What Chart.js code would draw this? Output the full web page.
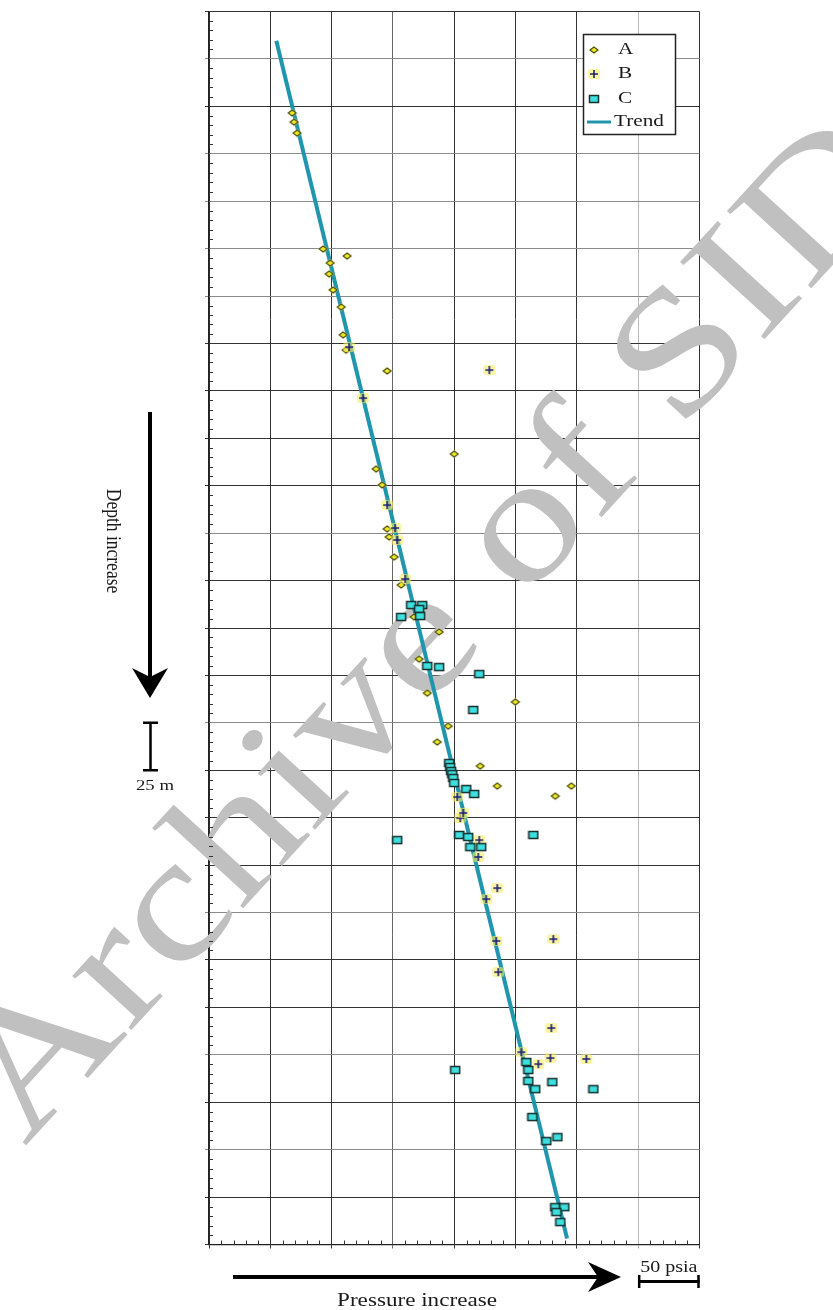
<!DOCTYPE html>
<html>
<head>
<meta charset="utf-8">
<script src="https://cdn.jsdelivr.net/npm/chart.js@4.4.0/dist/chart.umd.min.js"></script>
<style>
  html, body { margin: 0; padding: 0; background: #ffffff; }
  #wrap { width: 833px; height: 1310px; position: relative; }
  canvas { display: block; }
</style>
</head>
<body>
<div id="wrap"><canvas id="chart" width="833" height="1310"></canvas></div>
<script>
// Relative pressure (psia) and depth (m) of each measurement group
const aPressure = [67.8, 69.4, 71.8, 93.1, 112.6, 98.8, 98.0, 101.2, 107.8, 109.4, 111.8, 145.3, 200.0, 136.3, 141.2,
                   145.3, 146.9, 151.0, 156.7, 167.3, 187.7, 171.4, 178.0, 249.8, 195.1, 186.1, 221.2, 235.1, 282.4, 295.5];
const aDepth    = [53.5, 58.3, 64.1, 125.2, 128.9, 132.6, 138.4, 146.8, 155.8, 170.5, 178.5, 189.5, 233.3, 241.2, 249.6,
                   272.8, 277.0, 287.6, 302.3, 319.2, 327.1, 341.4, 359.3, 364.0, 376.7, 385.1, 397.8, 408.3, 413.6, 408.3];

const bPressure = [114.3, 228.6, 125.7, 145.3, 151.8, 153.5, 160.0, 202.4, 204.9, 207.3, 220.4,
                   219.6, 235.1, 226.1, 234.3, 280.8, 235.9, 279.2, 254.7, 278.4, 307.7, 268.6];
const bDepth    = [176.9, 189.0, 203.8, 260.2, 272.3, 278.6, 299.2, 414.1, 425.2, 422.5, 436.8,
                   445.7, 462.1, 467.9, 490.0, 489.0, 506.4, 535.9, 548.6, 551.7, 552.2, 554.9];

const cPressure = [164.9, 173.9, 171.4, 172.2, 156.7, 178.0, 187.7, 220.4, 215.5, 195.9, 196.7, 197.5, 198.4,
                   199.2, 200.0, 209.8, 216.3, 204.1, 211.4, 213.1, 222.0, 264.5, 153.5, 258.8, 260.4, 260.4,
                   266.1, 280.0, 313.5, 200.8, 263.7, 284.1, 275.1, 282.4, 289.8, 283.3, 286.5];
const cDepth    = [312.9, 312.9, 315.0, 318.7, 319.2, 345.0, 345.6, 349.3, 368.2, 396.2, 398.3, 400.4, 402.0,
                   404.1, 406.7, 409.9, 412.5, 434.1, 435.2, 440.5, 440.5, 434.1, 436.8, 553.8, 558.0, 563.8,
                   568.1, 564.4, 568.1, 558.0, 582.8, 593.4, 595.5, 630.3, 630.3, 632.9, 638.2];

const trendPressure = [54.9, 292.0];
const trendDepth    = [15.4, 646.8];

const seriesLabels = ['A', 'B', 'C', 'Trend'];

// Axis extents: one grid cell is 50 psia by 25 m
const pressureMax = 400, pressureStep = 50, pressureMinor = 10;
const depthMax = 650, depthStep = 25, depthMinor = 5;

const FONT = '"Liberation Serif", "Times New Roman", serif';
const SX = 1.25; // horizontal stretch of the annotation lettering
const TREND_COLOR = '#2096ad';

function toPoints(xs, ys) { return xs.map((x, i) => ({ x: x, y: ys[i] })); }

function markerCanvas(w, h, paint) {
  const c = document.createElement('canvas');
  c.width = w; c.height = h;
  paint(c.getContext('2d'));
  return c;
}

const diamondMark = markerCanvas(12, 10, g => {
  g.fillStyle = 'rgba(250,246,150,0.55)';
  g.beginPath(); g.moveTo(0.5, 5); g.lineTo(6, 0.5); g.lineTo(11.5, 5); g.lineTo(6, 9.5); g.closePath(); g.fill();
  g.fillStyle = '#ecea22'; g.strokeStyle = '#4b4a1c'; g.lineWidth = 1.1;
  g.beginPath(); g.moveTo(2, 5); g.lineTo(6, 2); g.lineTo(10, 5); g.lineTo(6, 8); g.closePath(); g.fill(); g.stroke();
});

const plusMark = markerCanvas(14, 12, g => {
  g.fillStyle = 'rgba(243,237,95,0.6)';
  g.beginPath(); g.roundRect(1, 1, 12, 10, 3); g.fill();
  g.strokeStyle = '#1e1e78'; g.lineWidth = 1.6;
  g.beginPath(); g.moveTo(3, 6); g.lineTo(11, 6); g.moveTo(7, 2); g.lineTo(7, 10); g.stroke();
});

const squareMark = markerCanvas(12, 10, g => {
  g.fillStyle = '#3ee0df';
  g.fillRect(1, 1, 10, 8);
  g.strokeStyle = '#14302f'; g.lineWidth = 1.5;
  g.strokeRect(1.5, 1.5, 9, 7);
});

const lightY = [25, 75, 100, 125, 150, 275, 375, 475, 550, 600];

// Minor tick marks pointing into the plot along the left and bottom axes
const minorTicks = {
  id: 'minorTicks',
  afterDraw(chart) {
    const { ctx, chartArea: a, scales: { x, y } } = chart;
    ctx.save();
    ctx.strokeStyle = '#333'; ctx.lineWidth = 1;
    ctx.beginPath();
    for (let v = depthMinor; v < depthMax; v += depthMinor) {
      if (v % depthStep === 0) continue;
      const py = Math.round(y.getPixelForValue(v)) + 0.5;
      ctx.moveTo(a.left, py); ctx.lineTo(a.left + 4, py);
    }
    for (let v = pressureMinor; v < pressureMax; v += pressureMinor) {
      if (v % pressureStep === 0) continue;
      const px = Math.round(x.getPixelForValue(v)) + 0.5;
      ctx.moveTo(px, a.bottom); ctx.lineTo(px, a.bottom - 4);
    }
    ctx.stroke();
    ctx.restore();
  }
};

// Archive stamp across the sheet, under the data marks
const stamp = {
  id: 'stamp',
  beforeDatasetsDraw(chart) {
    const ctx = chart.ctx;
    ctx.save();
    ctx.translate(434, 632);
    ctx.rotate(-47.5 * Math.PI / 180);
    ctx.scale(1.12, 0.92);
    ctx.font = '190px ' + FONT;
    ctx.fillStyle = '#c0c0c0';
    ctx.textAlign = 'center';
    ctx.textBaseline = 'middle';
    ctx.fillText('Archive of SID', 0, 0);
    ctx.restore();
  }
};

function stretchedText(ctx, text, x, y, size, align, rot) {
  ctx.save();
  ctx.translate(x, y);
  ctx.scale(SX, 1);
  if (rot) ctx.rotate(rot);
  ctx.font = size + 'px ' + FONT;
  ctx.fillStyle = '#1a1a1a';
  ctx.textAlign = align;
  ctx.textBaseline = 'middle';
  ctx.fillText(text, 0, 0);
  ctx.restore();
}

// Direction arrows, scale bars and the boxed key
const annotations = {
  id: 'annotations',
  afterDraw(chart) {
    const { ctx, scales: { x, y } } = chart;
    ctx.save();
    ctx.fillStyle = '#000'; ctx.strokeStyle = '#000';

    // depth arrow
    ctx.lineWidth = 4;
    ctx.beginPath(); ctx.moveTo(150, 412); ctx.lineTo(150, 680); ctx.stroke();
    ctx.beginPath(); ctx.moveTo(150, 698); ctx.lineTo(132, 668); ctx.lineTo(150, 677); ctx.lineTo(168, 668); ctx.closePath(); ctx.fill();
    stretchedText(ctx, 'Depth increase', 113, 541, 17.5, 'center', Math.PI / 2);

    // 25 m bar
    const yTop = y.getPixelForValue(375), yBot = y.getPixelForValue(400);
    ctx.lineWidth = 2.5;
    ctx.beginPath();
    ctx.moveTo(150.5, yTop); ctx.lineTo(150.5, yBot);
    ctx.moveTo(143, yTop); ctx.lineTo(158, yTop);
    ctx.moveTo(143, yBot); ctx.lineTo(158, yBot);
    ctx.stroke();
    stretchedText(ctx, '25 m', 155, 786, 15, 'center');

    // pressure arrow
    ctx.lineWidth = 4;
    ctx.beginPath(); ctx.moveTo(233, 1277); ctx.lineTo(604, 1277); ctx.stroke();
    ctx.beginPath(); ctx.moveTo(621, 1277); ctx.lineTo(588, 1262); ctx.lineTo(598, 1277); ctx.lineTo(588, 1292); ctx.closePath(); ctx.fill();
    stretchedText(ctx, 'Pressure increase', 417, 1301, 18.5, 'center');

    // 50 psia bar
    const xL = x.getPixelForValue(350), xR = x.getPixelForValue(400);
    ctx.lineWidth = 3;
    ctx.beginPath(); ctx.moveTo(xL, 1281.5); ctx.lineTo(xR, 1281.5); ctx.stroke();
    ctx.lineWidth = 2.5;
    ctx.beginPath();
    ctx.moveTo(xL + 1, 1275); ctx.lineTo(xL + 1, 1288);
    ctx.moveTo(xR - 1, 1275); ctx.lineTo(xR - 1, 1288);
    ctx.stroke();
    stretchedText(ctx, '50 psia', (xL + xR) / 2, 1268, 16, 'center');

    // key
    const bx = 583, by = 34, bw = 92, bh = 100;
    ctx.fillStyle = '#fff';
    ctx.fillRect(bx, by, bw, bh);
    ctx.strokeStyle = '#222'; ctx.lineWidth = 1.5;
    ctx.strokeRect(bx + 0.5, by + 0.5, bw, bh);
    const rowY = [50, 74, 99, 122];
    chart.data.datasets.forEach((ds, i) => {
      const ry = rowY[i];
      if (ds.showLine) {
        ctx.strokeStyle = ds.borderColor; ctx.lineWidth = 3;
        ctx.beginPath(); ctx.moveTo(587, ry); ctx.lineTo(611, ry); ctx.stroke();
        stretchedText(ctx, ds.label, 614, ry, 17, 'left');
      } else {
        const m = ds.pointStyle;
        ctx.drawImage(m, Math.round(594 - m.width / 2), Math.round(ry - m.height / 2));
        stretchedText(ctx, ds.label, 618, ry, 17, 'left');
      }
    });
    ctx.restore();
  }
};

const chart = new Chart(document.getElementById('chart'), {
  type: 'scatter',
  data: {
    datasets: [
      { label: seriesLabels[0], data: toPoints(aPressure, aDepth), pointStyle: diamondMark, pointRadius: 5, order: 3 },
      { label: seriesLabels[1], data: toPoints(bPressure, bDepth), pointStyle: plusMark, pointRadius: 5, order: 2 },
      { label: seriesLabels[2], data: toPoints(cPressure, cDepth), pointStyle: squareMark, pointRadius: 5, order: 1 },
      { label: seriesLabels[3], data: toPoints(trendPressure, trendDepth), showLine: true, borderColor: TREND_COLOR,
        borderWidth: 4, pointRadius: 0, borderCapStyle: 'butt', order: 4 }
    ]
  },
  options: {
    responsive: false,
    animation: false,
    events: [],
    layout: { padding: { left: 0, right: 133.5, top: 11.5, bottom: 0 } },
    plugins: { legend: { display: false }, tooltip: { enabled: false } },
    scales: {
      x: {
        type: 'linear', min: 0, max: pressureMax,
        ticks: { stepSize: pressureStep, display: false },
        grid: {
          color: c => c.tick && c.tick.value === 350 ? '#b8b8b8' : (c.tick && c.tick.value === 150 ? '#666' : '#333'),
          lineWidth: 1, drawTicks: true, tickLength: 4
        },
        border: { color: '#222', width: 1.3 },
        afterFit: s => { s.height = 65.5; }
      },
      y: {
        type: 'linear', reverse: true, min: 0, max: depthMax,
        ticks: { stepSize: depthStep, display: false },
        grid: {
          color: c => c.tick && lightY.includes(c.tick.value) ? '#8a8a8a' : '#333',
          lineWidth: 1, drawTicks: true, tickLength: 4
        },
        border: { color: '#222', width: 1.3 },
        afterFit: s => { s.width = 209; }
      }
    }
  },
  plugins: [stamp, minorTicks, annotations]
});
</script>
</body>
</html>
